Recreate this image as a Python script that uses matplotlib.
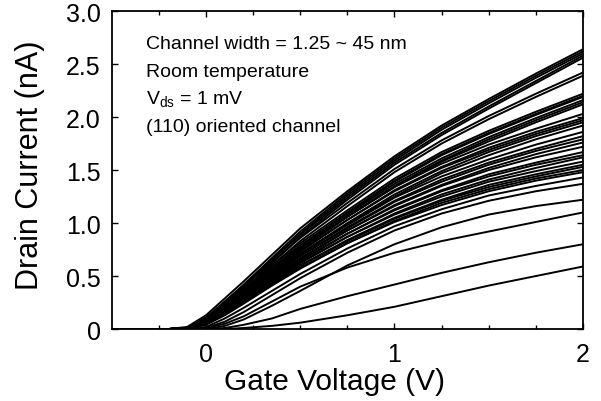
import numpy as np
import matplotlib
matplotlib.use("Agg")
import matplotlib.pyplot as plt
from matplotlib.ticker import FixedLocator, FuncFormatter

plt.rcParams['font.family'] = ['Liberation Sans', 'DejaVu Sans']

# gate voltage samples (V)
vg = [-0.5, -0.2, -0.1, 0.0, 0.1, 0.2, 0.35, 0.5, 0.75, 1.0, 1.25, 1.5, 1.75, 2.0]

# drain current (nA), grouped by end value
top_group = [
    [0, 0, 0.02, 0.13, 0.29, 0.45, 0.70, 0.95, 1.30, 1.63, 1.92, 2.17, 2.41, 2.64],
    [0, 0, 0.01, 0.10, 0.26, 0.42, 0.67, 0.92, 1.28, 1.61, 1.90, 2.15, 2.39, 2.62],
    [0, 0, 0.01, 0.09, 0.24, 0.40, 0.65, 0.90, 1.26, 1.59, 1.88, 2.13, 2.37, 2.60],
    [0, 0, 0.01, 0.11, 0.26, 0.41, 0.65, 0.89, 1.24, 1.57, 1.85, 2.10, 2.34, 2.58],
    [0, 0, 0.00, 0.07, 0.21, 0.37, 0.62, 0.87, 1.22, 1.55, 1.83, 2.08, 2.32, 2.56],
]
group_b = [
    [0, 0, 0.01, 0.10, 0.25, 0.40, 0.63, 0.86, 1.19, 1.51, 1.78, 2.01, 2.22, 2.42],
    [0, 0, 0.00, 0.08, 0.22, 0.37, 0.60, 0.83, 1.16, 1.48, 1.75, 1.98, 2.19, 2.39],
]
group_c = [
    [0, 0, 0.01, 0.10, 0.24, 0.38, 0.60, 0.81, 1.12, 1.42, 1.67, 1.87, 2.05, 2.22],
    [0, 0, 0.01, 0.09, 0.23, 0.37, 0.58, 0.79, 1.10, 1.40, 1.65, 1.85, 2.03, 2.20],
    [0, 0, 0.00, 0.07, 0.20, 0.34, 0.56, 0.77, 1.09, 1.39, 1.64, 1.84, 2.02, 2.19],
    [0, 0, 0.01, 0.09, 0.22, 0.36, 0.57, 0.78, 1.08, 1.37, 1.61, 1.81, 1.99, 2.16],
    [0, 0, 0.00, 0.06, 0.18, 0.32, 0.53, 0.75, 1.06, 1.35, 1.59, 1.79, 1.97, 2.14],
    [0, 0, 0.01, 0.08, 0.21, 0.34, 0.55, 0.76, 1.06, 1.34, 1.58, 1.77, 1.95, 2.12],
]
group_d = [
    [0, 0, 0.01, 0.09, 0.22, 0.35, 0.56, 0.76, 1.06, 1.34, 1.56, 1.74, 1.89, 2.03],
    [0, 0, 0.00, 0.07, 0.19, 0.32, 0.53, 0.73, 1.03, 1.31, 1.53, 1.71, 1.86, 1.99],
    [0, 0, 0.01, 0.08, 0.21, 0.34, 0.54, 0.74, 1.03, 1.30, 1.52, 1.69, 1.84, 1.97],
    [0, 0, 0.00, 0.06, 0.18, 0.31, 0.51, 0.71, 1.00, 1.27, 1.49, 1.67, 1.82, 1.95],
    [0, 0, 0.01, 0.08, 0.20, 0.33, 0.52, 0.71, 0.99, 1.25, 1.47, 1.64, 1.79, 1.92],
]
group_e = [
    [0, 0, 0.01, 0.08, 0.20, 0.33, 0.52, 0.71, 0.98, 1.24, 1.44, 1.60, 1.74, 1.86],
    [0, 0, 0.00, 0.07, 0.19, 0.31, 0.50, 0.69, 0.96, 1.21, 1.41, 1.57, 1.70, 1.82],
    [0, 0, 0.01, 0.08, 0.20, 0.32, 0.51, 0.69, 0.95, 1.20, 1.39, 1.55, 1.68, 1.79],
    [0, 0, 0.00, 0.06, 0.17, 0.29, 0.48, 0.66, 0.93, 1.17, 1.36, 1.52, 1.65, 1.76],
    [0, 0, 0.01, 0.07, 0.19, 0.31, 0.49, 0.67, 0.93, 1.16, 1.35, 1.50, 1.62, 1.72],
    [0, 0, 0.00, 0.06, 0.17, 0.29, 0.47, 0.64, 0.90, 1.13, 1.31, 1.46, 1.57, 1.67],
    [0, 0, 0.01, 0.07, 0.18, 0.30, 0.48, 0.65, 0.90, 1.12, 1.30, 1.44, 1.55, 1.64],
    [0, 0, 0.00, 0.05, 0.15, 0.27, 0.45, 0.62, 0.87, 1.09, 1.27, 1.41, 1.52, 1.62],
    [0, 0, 0.01, 0.07, 0.18, 0.29, 0.46, 0.63, 0.87, 1.08, 1.25, 1.39, 1.49, 1.58],
    [0, 0, 0.00, 0.05, 0.15, 0.26, 0.43, 0.60, 0.84, 1.05, 1.22, 1.36, 1.46, 1.55],
    [0, 0, 0.00, 0.06, 0.16, 0.27, 0.44, 0.60, 0.83, 1.04, 1.21, 1.34, 1.44, 1.53],
    [0, 0, 0.00, 0.04, 0.13, 0.24, 0.41, 0.57, 0.81, 1.02, 1.19, 1.32, 1.42, 1.50],
    [0, 0, 0.00, 0.05, 0.15, 0.25, 0.42, 0.58, 0.81, 1.01, 1.17, 1.30, 1.40, 1.48],
    [0, 0, 0.00, 0.02, 0.10, 0.20, 0.36, 0.52, 0.76, 0.97, 1.13, 1.26, 1.35, 1.43],
    [0, 0, 0.00, 0.01, 0.07, 0.16, 0.32, 0.48, 0.72, 0.93, 1.09, 1.21, 1.30, 1.37],
]
low_group = [
    [0, 0, 0.00, 0.00, 0.03, 0.09, 0.22, 0.36, 0.60, 0.80, 0.96, 1.08, 1.16, 1.22],
    [0, 0, 0.00, 0.01, 0.05, 0.12, 0.26, 0.40, 0.58, 0.72, 0.83, 0.92, 1.01, 1.10],
    [0, 0, 0.00, 0.00, 0.01, 0.04, 0.10, 0.19, 0.31, 0.42, 0.53, 0.63, 0.72, 0.80],
    [0, 0, 0.00, 0.00, 0.00, 0.01, 0.03, 0.06, 0.13, 0.21, 0.31, 0.41, 0.50, 0.59],
]

notes = ["Channel width = 1.25 ~ 45 nm", "Room temperature",
         r"V$_{\mathregular{ds}}$ = 1 mV", "(110) oriented channel"]
note_y = [2.69, 2.43, 2.17, 1.91]

fig = plt.figure(figsize=(6.01, 4.02), dpi=100)
ax = fig.add_axes([0.186, 0.179, 0.784, 0.791])

for grp in [top_group, group_b, group_c, group_d, group_e, low_group]:
    for cur in grp:
        ax.plot(vg, cur, color='black', lw=1.4)

ax.set_xlim(-0.5, 2.0)
ax.set_ylim(0, 3.0)

ax.xaxis.set_major_locator(FixedLocator([0, 1, 2]))
ax.xaxis.set_minor_locator(FixedLocator([-0.25, 0.25, 0.5, 0.75, 1.25, 1.5, 1.75]))
ax.yaxis.set_major_locator(FixedLocator([0, 0.5, 1.0, 1.5, 2.0, 2.5, 3.0]))
ax.yaxis.set_major_formatter(FuncFormatter(lambda v, p: "0" if v == 0 else f"{v:.1f}"))
ax.tick_params(which='both', direction='in', top=True, right=True, labelsize=18)
ax.tick_params(axis='y', pad=8)
ax.tick_params(axis='x', pad=9)
ax.tick_params(which='major', length=4, width=1)
ax.tick_params(which='minor', length=3, width=1)
for s in ax.spines.values():
    s.set_linewidth(1.3)

ax.set_xlabel("Gate Voltage (V)", fontsize=21.5)
ax.set_ylabel("Drain Current (nA)", fontsize=22)
ax.xaxis.set_label_coords(0.473, -0.118)
ax.yaxis.set_label_coords(-0.142, 0.519)

for t, y in zip(notes, note_y):
    ax.text(-0.317, y, t, fontsize=14, va='center', ha='left')

fig.savefig("out.png", dpi=100)
